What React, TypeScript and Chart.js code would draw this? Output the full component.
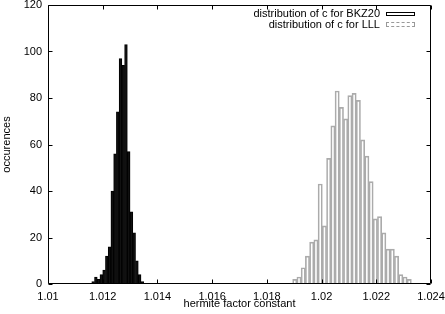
import { useEffect, useRef } from 'react';
import { Chart, registerables } from 'chart.js';

Chart.register(...registerables);

// BKZ20 histogram: bin centres and counts
const bkzBins = [
  1.01165, 1.01175, 1.01185, 1.01195, 1.01205, 1.01215, 1.01225, 1.01235, 1.01245, 1.01255,
  1.01265, 1.01275, 1.01285, 1.01295, 1.01305, 1.01315, 1.01325, 1.01335, 1.01345,
];
const bkzCounts = [1, 3, 2, 4, 6, 12, 16, 40, 56, 74, 97, 94, 103, 57, 31, 22, 10, 4, 1];

// LLL histogram: bin centres and counts
const lllBins = [
  1.01902, 1.019175, 1.01933, 1.019485, 1.01964, 1.019795, 1.01995, 1.020105, 1.02026, 1.020415,
  1.02057, 1.020725, 1.02088, 1.021035, 1.02119, 1.021345, 1.0215, 1.021655, 1.02181, 1.021965,
  1.02212, 1.022275, 1.02243, 1.022585, 1.02274, 1.022895, 1.02305, 1.023205,
];
const lllCounts = [2, 3, 7, 12, 18, 19, 43, 25, 54, 68, 83, 76, 71, 81, 82, 79, 62, 55, 44, 28, 29, 22, 15, 15, 12, 4, 3, 2];

const seriesNames = ['distribution of c for BKZ20', 'distribution of c for LLL'];

const xTicks = [1.01, 1.012, 1.014, 1.016, 1.018, 1.02, 1.022, 1.024];
const xTickLabels = ['1.01', '1.012', '1.014', '1.016', '1.018', '1.02', '1.022', '1.024'];
const yTicks = [0, 20, 40, 60, 80, 100, 120];
const yTickLabels = ['0', '20', '40', '60', '80', '100', '120'];

const FONT = '"Liberation Sans", Arial, Helvetica, sans-serif';

const framePlugin = {
  id: 'gnuFrame',
  afterDatasetsDraw(chart: any) {
    const { ctx, chartArea: a, scales } = chart;
    const tick = 4;
    ctx.save();
    ctx.strokeStyle = '#000';
    ctx.lineWidth = 1;
    ctx.beginPath();
    const L = Math.round(a.left) + 0.5;
    const R = Math.round(a.right) - 0.5;
    const T = Math.round(a.top) + 0.5;
    const B = Math.round(a.bottom) - 0.5;
    ctx.rect(L, T, R - L, B - T);
    xTicks.forEach((v) => {
      const px = Math.round(scales.x.getPixelForValue(v)) + 0.5;
      ctx.moveTo(px, B);
      ctx.lineTo(px, B - tick);
      ctx.moveTo(px, T);
      ctx.lineTo(px, T + tick);
    });
    yTicks.forEach((v) => {
      const py = Math.round(scales.y.getPixelForValue(v)) + 0.5;
      ctx.moveTo(L, py);
      ctx.lineTo(L + tick, py);
      ctx.moveTo(R, py);
      ctx.lineTo(R - tick, py);
    });
    ctx.stroke();
    ctx.restore();
  },
};

export default function App() {
  const ref = useRef<HTMLCanvasElement | null>(null);

  useEffect(() => {
    if (!ref.current) return;
    const chart = new Chart(ref.current, {
      type: 'bar',
      data: {
        datasets: [
          {
            label: seriesNames[0],
            data: bkzBins.map((x, i) => ({ x, y: bkzCounts[i] })),
            backgroundColor: '#111',
            borderColor: '#000',
            borderWidth: { left: 1, right: 1, top: 1, bottom: 0 },
            barThickness: 'flex',
            barPercentage: 1,
            categoryPercentage: 1,
            skipNull: true,
          },
          {
            label: seriesNames[1],
            data: lllBins.map((x, i) => ({ x, y: lllCounts[i] })),
            backgroundColor: 'rgba(0,0,0,0)',
            borderColor: '#ababab',
            borderWidth: { left: 1, right: 1, top: 1, bottom: 0 },
            barThickness: 'flex',
            barPercentage: 1,
            categoryPercentage: 1,
            skipNull: true,
          },
        ],
      } as any,
      options: {
        responsive: false,
        animation: false,
        events: [],
        layout: { padding: { top: 5, right: 14, left: 0, bottom: 0 } },
        plugins: {
          legend: { display: false },
          tooltip: { enabled: false },
        },
        scales: {
          x: {
            type: 'linear',
            min: 1.01,
            max: 1.024,
            offset: false,
            grid: { display: false, drawTicks: false },
            border: { display: false },
            afterBuildTicks: (s: any) => {
              s.ticks = xTicks.map((value) => ({ value }));
            },
            afterFit: (s: any) => {
              s.height = 30;
              s.paddingLeft = 0;
              s.paddingRight = 0;
            },
            ticks: {
              autoSkip: false,
              maxRotation: 0,
              padding: 6,
              color: '#000',
              font: { family: FONT, size: 11 },
              callback: (_v: any, i: number) => xTickLabels[i],
            },
            title: {
              display: true,
              text: 'hermite factor constant',
              color: '#000',
              font: { family: FONT, size: 11 },
              padding: { top: 0, bottom: 3 },
            },
          },
          y: {
            type: 'linear',
            min: 0,
            max: 120,
            grid: { display: false, drawTicks: false },
            border: { display: false },
            afterBuildTicks: (s: any) => {
              s.ticks = yTicks.map((value) => ({ value }));
            },
            afterFit: (s: any) => {
              s.width = 48;
              s.paddingTop = 0;
              s.paddingBottom = 0;
            },
            ticks: {
              padding: 6,
              color: '#000',
              font: { family: FONT, size: 11 },
              callback: (_v: any, i: number) => yTickLabels[i],
            },
            title: {
              display: true,
              text: 'occurences',
              color: '#000',
              font: { family: FONT, size: 11 },
              padding: { top: 0, bottom: 0 },
            },
          },
        },
      } as any,
      plugins: [framePlugin],
    });
    return () => chart.destroy();
  }, []);

  const textStyle: any = {
    position: 'absolute',
    right: 445 - 380,
    fontFamily: FONT,
    fontSize: 11,
    lineHeight: '11.5px',
    color: '#000',
    whiteSpace: 'nowrap',
    textAlign: 'right',
  };

  return (
    <div style={{ position: 'absolute', left: 0, top: 0, width: 445, height: 314, background: '#fff' }}>
      <canvas ref={ref} width={445} height={314} style={{ display: 'block' }} />
      <div style={{ ...textStyle, top: 7.7 }}>{seriesNames[0]}</div>
      <div style={{ ...textStyle, top: 19.2 }}>{seriesNames[1]}</div>
      <div
        style={{
          position: 'absolute',
          left: 386,
          top: 11.5,
          width: 29,
          height: 4.5,
          boxSizing: 'border-box',
          border: '1.5px solid #000',
        }}
      />
      <div
        style={{
          position: 'absolute',
          left: 386,
          top: 22.3,
          width: 29,
          height: 4.5,
          boxSizing: 'border-box',
          border: '1px dashed #999',
        }}
      />
    </div>
  );
}
